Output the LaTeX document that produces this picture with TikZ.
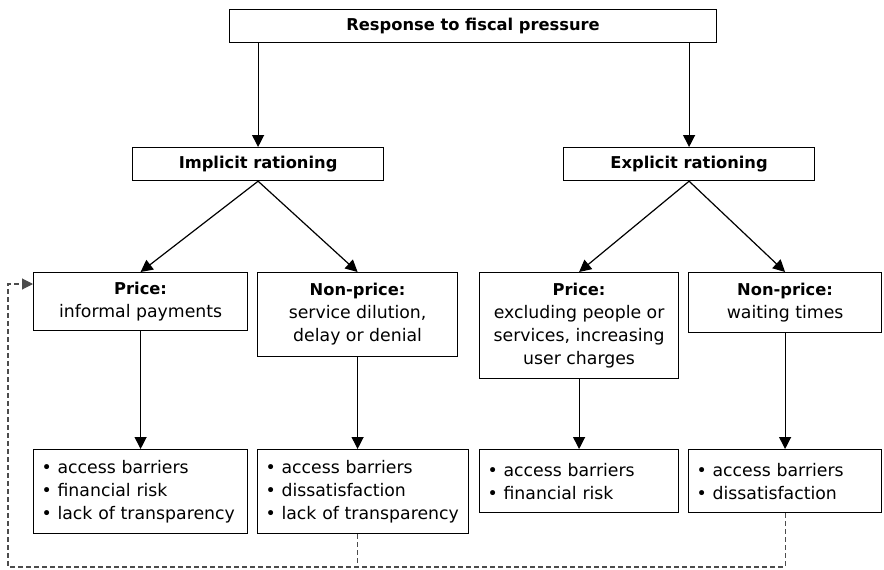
\documentclass[tikz,border=0pt]{standalone}
\usepackage{fontspec}
\setmainfont{DejaVu Sans}
\usetikzlibrary{arrows.meta}

\newcommand{\hd}[1]{{\fontsize{16.3}{23}\selectfont\bfseries #1}}

\tikzset{every picture/.style={line width=1.2pt}}
\tikzset{
  box/.style={draw, inner sep=0pt, align=center, anchor=north west},
  listbox/.style={draw, inner xsep=8pt, inner ysep=0pt, align=left, anchor=north west,
    execute at begin node={\hyphenpenalty=10000\exhyphenpenalty=10000}},
  arr/.style={-{Triangle[length=12pt,width=12pt]}},
  backloop/.style={dashed, dash pattern=on 5pt off 3pt, draw=black!70, line width=1.1pt},
}

\begin{document}
\begin{tikzpicture}[x=1pt,y=-1pt]
\useasboundingbox (0,0) rectangle (884,570);
\fontsize{17.3}{23}\selectfont

% Top level
\node[box, minimum width=487pt, minimum height=33pt] (resp) at (229,9) {\hd{Response to fiscal pressure}};

% Rationing
\node[box, minimum width=251pt, minimum height=33pt] (impl) at (132,147) {\hd{Implicit rationing}};
\node[box, minimum width=251pt, minimum height=33pt] (expl) at (563,147) {\hd{Explicit rationing}};

% Price / non-price
\node[box, minimum width=214pt, minimum height=58pt] (priceA) at (33,272) {\hd{Price:}\\informal payments};
\node[box, minimum width=200pt, minimum height=84pt] (nonpriceA) at (257,272) {\hd{Non-price:}\\service dilution,\\delay or denial};
\node[box, minimum width=199pt, minimum height=106pt] (priceB) at (479,272) {\hd{Price:}\\excluding people or\\services, increasing\\user charges};
\node[box, minimum width=193pt, minimum height=60pt] (nonpriceB) at (688,272) {\hd{Non-price:}\\waiting times};

% Effects
\node[listbox, text width=198pt, minimum height=84pt] (effA) at (33,449) {\textbullet\ access barriers\\\textbullet\ financial risk\\\textbullet\ lack of transparency};
\node[listbox, text width=195pt, minimum height=84pt] (effB) at (257,449) {\textbullet\ access barriers\\\textbullet\ dissatisfaction\\\textbullet\ lack of transparency};
\node[listbox, text width=183pt, minimum height=63pt] (effC) at (479,449) {\textbullet\ access barriers\\\textbullet\ financial risk};
\node[listbox, text width=177pt, minimum height=63pt] (effD) at (688,449) {\textbullet\ access barriers\\\textbullet\ dissatisfaction};

% Arrows
\draw[arr] (resp.south -| impl) -- (impl);
\draw[arr] (resp.south -| expl.north) -- (expl.north);
\draw[arr] (impl.south) -- (priceA.north);
\draw[arr] (impl.south) -- (nonpriceA.north);
\draw[arr] (expl.south) -- (priceB.north);
\draw[arr] (expl.south) -- (nonpriceB.north);
\draw[arr] (priceA.south) -- (priceA.south |- effA.north);
\draw[arr] (nonpriceA.south) -- (nonpriceA.south |- effB.north);
\draw[arr] (priceB.south) -- (priceB.south |- effC.north);
\draw[arr] (nonpriceB.south) -- (nonpriceB.south |- effD.north);

% Feedback loop
\coordinate (loopR) at (effD.south |- 0,567);
\coordinate (loopL) at (8,567);
\coordinate (loopT) at (8,284);
\draw[backloop] (nonpriceA.south |- effB.south) -- (nonpriceA.south |- loopR);
\draw[backloop, -{Triangle[length=11pt,width=11pt]}] (nonpriceB.south |- effD.south) -- (nonpriceB.south |- loopR) -- (loopL) -- (loopT) -- (priceA.west |- loopT);

\end{tikzpicture}
\end{document}
